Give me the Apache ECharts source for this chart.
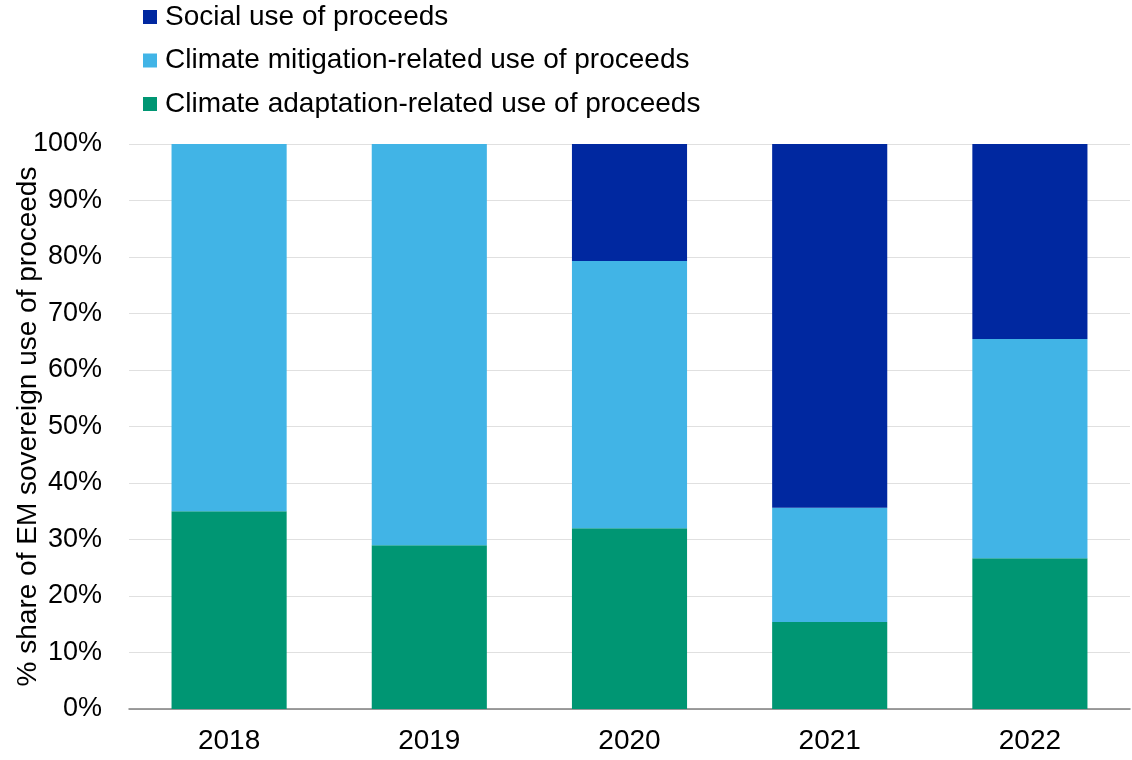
<!DOCTYPE html>
<html>
<head>
<meta charset="utf-8">
<style>
  html, body { margin: 0; padding: 0; background: #ffffff; }
  #chart { width: 1132px; height: 760px; }
</style>
<script src="https://cdn.jsdelivr.net/npm/echarts@6/dist/echarts.min.js"></script>
</head>
<body>
<div id="chart"></div>
<script>
// Years on the category axis
const years = ['2018', '2019', '2020', '2021', '2022'];

// Share of EM sovereign use of proceeds, in percent, per year
const adaptation = [35.0, 29.0, 32.0, 15.4, 26.7];
const mitigation = [65.0, 71.0, 47.3, 20.2, 38.8];
const social = [0, 0, 20.7, 64.4, 34.5];

const seriesNames = [
  'Social use of proceeds',
  'Climate mitigation-related use of proceeds',
  'Climate adaptation-related use of proceeds'
];

const colors = {
  social: '#0028a0',
  mitigation: '#41b4e6',
  adaptation: '#009673'
};

const font = 'Liberation Sans, Arial, sans-serif';
const fontSize = 28;

const chart = echarts.init(document.getElementById('chart'), null, { renderer: 'canvas' });

function barSeries(name, data, color) {
  return {
    name: name,
    type: 'bar',
    stack: 'total',
    data: data,
    barWidth: '57.5%',
    itemStyle: { color: color },
    emphasis: { disabled: true }
  };
}

chart.setOption({
  animation: false,
  textStyle: { fontFamily: font },
  legend: {
    orient: 'vertical',
    left: 143,
    top: 3,
    padding: 0,
    itemWidth: 14,
    itemHeight: 14,
    itemGap: 15.5,
    icon: 'rect',
    data: seriesNames,
    textStyle: { fontSize: fontSize, color: '#000000', fontFamily: font, padding: [0, 0, 0, 3] }
  },
  grid: {
    left: 129, right: 2, top: 144, bottom: 51,
    containLabel: false,
    outerBoundsMode: 'none'
  },
  xAxis: {
    type: 'category',
    data: years,
    axisLine: { lineStyle: { color: '#7f7f7f', width: 1.5 } },
    axisTick: { show: false },
    axisLabel: { fontSize: fontSize, color: '#000000', margin: 18, fontFamily: font }
  },
  yAxis: {
    type: 'value',
    min: 0,
    max: 100,
    interval: 10,
    name: '% share of EM sovereign use of proceeds',
    nameLocation: 'middle',
    nameGap: 87,
    nameMoveOverlap: false,
    nameTextStyle: { fontSize: fontSize, color: '#000000', fontFamily: font },
    axisLine: { show: false },
    axisTick: { show: false },
    splitLine: { lineStyle: { color: '#e0e0e0', width: 1 } },
    axisLabel: { fontSize: 27, color: '#000000', margin: 27, fontFamily: font, formatter: '{value}%' }
  },
  series: [
    barSeries(seriesNames[2], adaptation, colors.adaptation),
    barSeries(seriesNames[1], mitigation, colors.mitigation),
    barSeries(seriesNames[0], social, colors.social)
  ]
});
</script>
</body>
</html>
